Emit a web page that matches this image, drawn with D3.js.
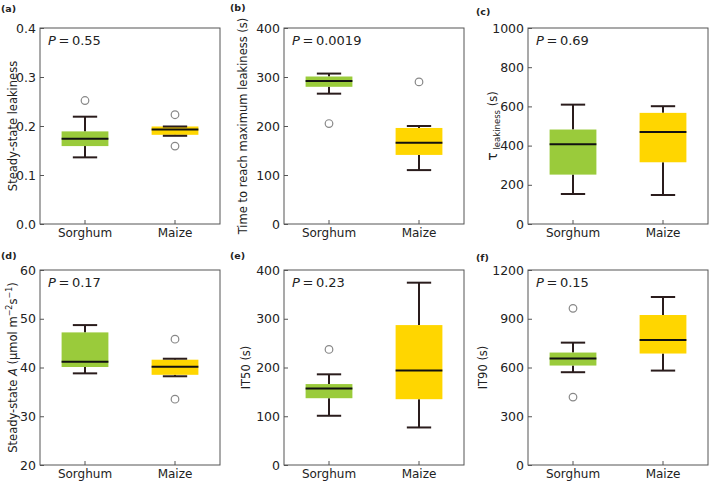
<html>
<head>
<meta charset="utf-8">
<script type="text/javascript" src="https://cdnjs.cloudflare.com/ajax/libs/d3/7.8.5/d3.min.js"></script>
<style>
  body { margin: 0; background: #fff; }
  text { font-family: "DejaVu Sans", sans-serif; fill: #222; }
</style>
</head>
<body>
<div id="chart"></div>
<script type="text/javascript">
// groups on the x axis
var groups = ["Sorghum", "Maize"];

// box stats per group: [whisker low, q1, median, q3, whisker high]
var leakSS      = [[0.136, 0.159, 0.174, 0.189, 0.219], [0.180, 0.182, 0.193, 0.199, 0.199]];
var leakSSOut   = [[0.252], [0.223, 0.159]];
var timeMax     = [[266, 280, 292, 301, 307], [110, 141, 166, 196, 200]];
var timeMaxOut  = [[205], [290]];
var tauLeak     = [[153, 252, 407, 482, 609], [148, 315, 469, 567, 601]];
var tauLeakOut  = [[], []];
var steadyA     = [[38.8, 40.1, 41.2, 47.2, 48.7], [38.2, 38.5, 40.15, 41.6, 41.8]];
var steadyAOut  = [[], [45.8, 33.5]];
var it50        = [[101, 137, 157, 166, 186], [77, 135, 194, 287, 374]];
var it50Out     = [[237], []];
var it90        = [[571, 612, 655, 692, 753], [581, 686, 769, 923, 1034]];
var it90Out     = [[964, 418], []];

// y tick labels for each panel
var ticksA = [0, 0.1, 0.2, 0.3, 0.4];
var ticksB = [0, 100, 200, 300, 400];
var ticksC = [0, 200, 400, 600, 800, 1000];
var ticksD = [20, 30, 40, 50, 60];
var ticksE = [0, 100, 200, 300, 400];
var ticksF = [0, 300, 600, 900, 1200];

var pValues = ["0.55", "0.0019", "0.69", "0.17", "0.23", "0.15"];

var colors = ["#9acb3b", "#ffd600"];
var lineColor = "#2a1c1c";

var panels = [
	{tag: "(a)", tx: 1,   ty: 12, x: 40,  y: 28,  h: 196, stats: leakSS,  out: leakSSOut,  ticks: ticksA, fmt: d3.format(".1f"), lx: 17,  p: pValues[0]},
	{tag: "(b)", tx: 230, ty: 11, x: 284, y: 28,  h: 196, stats: timeMax, out: timeMaxOut, ticks: ticksB, fmt: d3.format("d"),   lx: 247, p: pValues[1]},
	{tag: "(c)", tx: 476, ty: 15, x: 528, y: 28,  h: 196, stats: tauLeak, out: tauLeakOut, ticks: ticksC, fmt: d3.format("d"),   lx: 497, p: pValues[2]},
	{tag: "(d)", tx: 1,   ty: 259, x: 40, y: 270, h: 195, stats: steadyA, out: steadyAOut, ticks: ticksD, fmt: d3.format("d"),   lx: 17,  p: pValues[3]},
	{tag: "(e)", tx: 230, ty: 259, x: 284, y: 270, h: 195, stats: it50,   out: it50Out,    ticks: ticksE, fmt: d3.format("d"),   lx: 250, p: pValues[4]},
	{tag: "(f)", tx: 476, ty: 261, x: 528, y: 270, h: 195, stats: it90,   out: it90Out,    ticks: ticksF, fmt: d3.format("d"),   lx: 487, p: pValues[5]}
];

var W = 180;

var svg = d3.select("#chart").append("svg")
	.attr("width", 709)
	.attr("height", 482);

panels.forEach(function(pn, idx) {
	var H = pn.h;
	// panel tag
	svg.append("text")
		.attr("x", pn.tx).attr("y", pn.ty)
		.attr("font-size", "9.5px").attr("font-weight", "bold")
		.text(pn.tag);

	var g = svg.append("g").attr("transform", "translate(" + pn.x + "," + pn.y + ")");

	var x = d3.scaleBand().domain(groups).range([0, W]).padding(0);
	var y = d3.scaleLinear().domain([pn.ticks[0], pn.ticks[pn.ticks.length - 1]]).range([H, 0]);
	var bw = W * 0.26, cw = bw * 0.52;

	// axes with inward ticks
	var ya = g.append("g").call(d3.axisLeft(y).tickValues(pn.ticks).tickFormat(pn.fmt)
		.tickSizeInner(-4).tickSizeOuter(0).tickPadding(4));
	ya.selectAll("text").attr("font-size", "12.5px").style("font-family", "DejaVu Sans").attr("fill", "#222");
	ya.selectAll("line").attr("stroke", "#555");
	ya.select(".domain").remove();

	var xa = g.append("g").attr("transform", "translate(0," + H + ")")
		.call(d3.axisBottom(x).tickSizeInner(-4).tickSizeOuter(0).tickPadding(4));
	xa.selectAll("text").attr("font-size", "12px").style("font-family", "DejaVu Sans").attr("fill", "#222");
	xa.selectAll("line").attr("stroke", "#555");
	xa.select(".domain").remove();

	// boxes
	pn.stats.forEach(function(s, i) {
		var cx = x(groups[i]) + x.bandwidth() / 2;
		// whiskers
		g.append("line").attr("x1", cx).attr("x2", cx).attr("y1", y(s[0])).attr("y2", y(s[1]))
			.attr("stroke", lineColor).attr("stroke-width", 2);
		g.append("line").attr("x1", cx).attr("x2", cx).attr("y1", y(s[3])).attr("y2", y(s[4]))
			.attr("stroke", lineColor).attr("stroke-width", 2);
		g.append("rect")
			.attr("x", cx - bw / 2).attr("width", bw)
			.attr("y", y(s[3])).attr("height", y(s[1]) - y(s[3]))
			.attr("fill", colors[i]);
		[s[0], s[4]].forEach(function(v) {
			g.append("line").attr("x1", cx - cw / 2).attr("x2", cx + cw / 2).attr("y1", y(v)).attr("y2", y(v))
				.attr("stroke", lineColor).attr("stroke-width", 2);
		});
		g.append("line").attr("x1", cx - bw / 2).attr("x2", cx + bw / 2).attr("y1", y(s[2])).attr("y2", y(s[2]))
			.attr("stroke", "#111").attr("stroke-width", 2);
		pn.out[i].forEach(function(v) {
			g.append("circle").attr("cx", cx).attr("cy", y(v)).attr("r", 3.8)
				.attr("fill", "none").attr("stroke", "#888").attr("stroke-width", 1.2);
		});
	});

	// frame
	g.append("rect").attr("width", W).attr("height", H)
		.attr("fill", "none").attr("stroke", "#555").attr("stroke-width", 1);

	// P value
	var pt = g.append("text").attr("x", 8).attr("y", 17).attr("font-size", "13px");
	pt.append("tspan").attr("font-style", "italic").text("P");
	pt.append("tspan").text("\u2009=\u2009" + pn.p);

	// y label
	var lab = svg.append("text")
		.attr("transform", "translate(" + pn.lx + "," + (pn.y + H / 2) + ") rotate(-90)")
		.attr("text-anchor", "middle")
		.attr("font-size", "11.5px");
	if (idx === 0) lab.text("Steady-state leakiness");
	if (idx === 1) lab.text("Time to reach maximum leakiness (s)");
	if (idx === 2) {
		lab.append("tspan").attr("font-size", "14px").text("τ");
		lab.append("tspan").attr("font-size", "8.5px").attr("dy", 3).text(" leakiness");
		lab.append("tspan").attr("dy", -3).text(" (s)");
	}
	if (idx === 3) {
		lab.append("tspan").text("Steady-state ");
		lab.append("tspan").attr("font-style", "italic").text("A");
		lab.append("tspan").text(" (μmol m");
		lab.append("tspan").attr("font-size", "8px").attr("dy", -5).text("−2");
		lab.append("tspan").attr("dy", 5).text("s");
		lab.append("tspan").attr("font-size", "8px").attr("dy", -5).text("−1");
		lab.append("tspan").attr("dy", 5).text(")");
	}
	if (idx === 4) lab.text("IT50 (s)");
	if (idx === 5) lab.text("IT90 (s)");
});
</script>
</body>
</html>
